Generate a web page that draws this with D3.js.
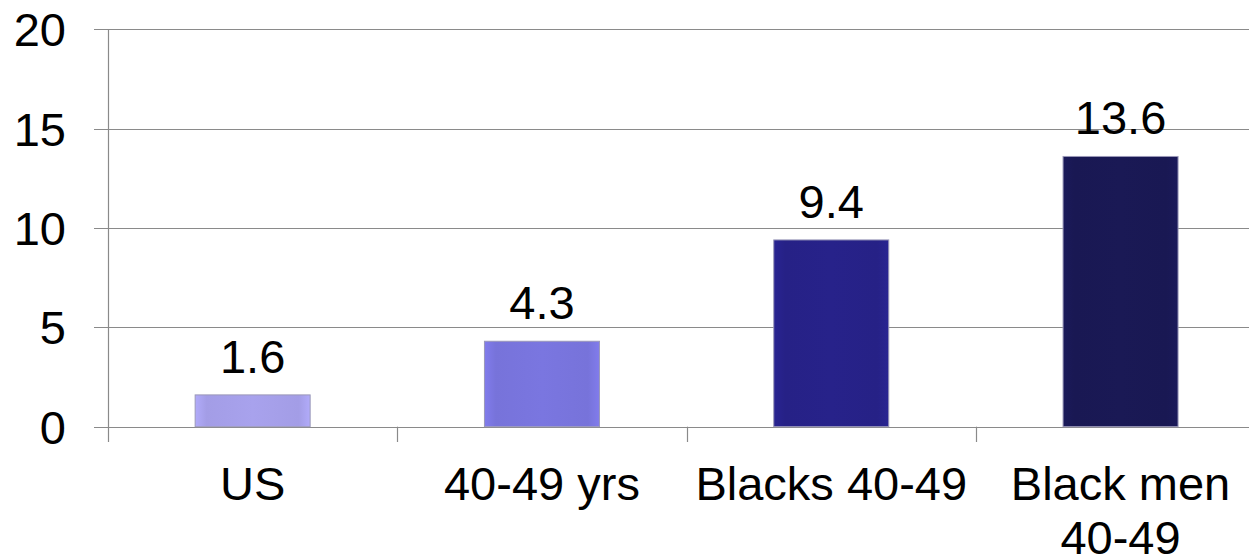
<!DOCTYPE html>
<html>
<head>
<meta charset="utf-8">
<script src="https://cdn.jsdelivr.net/npm/d3@7"></script>
<style>
  html, body { margin: 0; padding: 0; background: #fff; }
  svg { display: block; }
  text { font-family: "Liberation Sans", Arial, sans-serif; fill: #000; }
</style>
</head>
<body>
<svg id="chart" width="1249" height="557"></svg>
<script>
// Category names (multi-line labels split on "\n")
const categories = ["US", "40-49 yrs", "Blacks 40-49", "Black men\n40-49"];
// Rate per category
const values = [1.6, 4.3, 9.4, 13.6];
// Bar fills, light to dark
const barColors = ["#a8a2ed", "#7a76e0", "#27228a", "#1a1955"];
// Y-axis tick values
const yTicks = [0, 5, 10, 15, 20];

const W = 1249, H = 557;
const plotLeft = 108, plotTop = 29.3, plotBottom = 426.7;
const step = 289.3;
const fontSize = 47;

const svg = d3.select("#chart");

const y = d3.scaleLinear().domain([0, 20]).range([plotBottom, plotTop]);
const x = d3.scaleBand()
  .domain(categories)
  .range([plotLeft, plotLeft + step * categories.length])
  .paddingInner(0.6025)
  .paddingOuter(0.6025 / 2);

// Horizontal gridlines with short ticks left of the axis
svg.append("g").selectAll("line").data(yTicks).join("line")
  .attr("x1", 94).attr("x2", W)
  .attr("y1", d => Math.round(y(d)) + 0.5)
  .attr("y2", d => Math.round(y(d)) + 0.5)
  .attr("stroke", "#8a8a8a").attr("stroke-width", 1.2);

// Y tick labels
svg.append("g").selectAll("text").data(yTicks).join("text")
  .attr("x", 66).attr("y", d => y(d))
  .attr("dy", "0.36em")
  .attr("text-anchor", "end")
  .attr("font-size", fontSize)
  .text(d => d);

// Vertical axis line
svg.append("line")
  .attr("x1", plotLeft + 0.5).attr("x2", plotLeft + 0.5)
  .attr("y1", y(20)).attr("y2", 442)
  .attr("stroke", "#8a8a8a").attr("stroke-width", 1.2);

// Category boundary ticks
const bounds = categories.slice(1).map(c => x(c) - (x.step() - x.bandwidth()) / 2);
svg.append("g").selectAll("line").data(bounds).join("line")
  .attr("x1", d => Math.round(d) + 0.5).attr("x2", d => Math.round(d) + 0.5)
  .attr("y1", plotBottom).attr("y2", 442)
  .attr("stroke", "#8a8a8a").attr("stroke-width", 1.2);

// Bar gradients
const defs = svg.append("defs");
barColors.forEach((c, i) => {
  const g = defs.append("linearGradient").attr("id", "g" + i)
    .attr("x1", 0).attr("x2", 1).attr("y1", 0).attr("y2", 0);
  const base = d3.color(c);
  g.append("stop").attr("offset", "0%").attr("stop-color", base.brighter(0.15));
  g.append("stop").attr("offset", "10%").attr("stop-color", base.darker(0.08));
  g.append("stop").attr("offset", "50%").attr("stop-color", base);
  g.append("stop").attr("offset", "90%").attr("stop-color", base.darker(0.08));
  g.append("stop").attr("offset", "100%").attr("stop-color", base.brighter(0.15));
});

const data = categories.map((c, i) => ({ c, v: values[i], i }));

// Bars
svg.append("g").selectAll("rect").data(data).join("rect")
  .attr("x", d => x(d.c))
  .attr("y", d => y(d.v))
  .attr("width", x.bandwidth())
  .attr("height", d => y(0) - y(d.v))
  .attr("fill", d => `url(#g${d.i})`)
  .attr("stroke", "#9a98b8")
  .attr("stroke-width", 1);

// Value labels
svg.append("g").selectAll("text").data(data).join("text")
  .attr("x", d => x(d.c) + x.bandwidth() / 2)
  .attr("y", d => y(d.v) - 22)
  .attr("text-anchor", "middle")
  .attr("font-size", fontSize)
  .text(d => d.v);

// Category labels
const lab = svg.append("g").selectAll("text").data(data).join("text")
  .attr("text-anchor", "middle")
  .attr("font-size", fontSize);
lab.each(function (d) {
  const t = d3.select(this);
  d.c.split("\n").forEach((line, k) => {
    t.append("tspan")
      .attr("x", x(d.c) + x.bandwidth() / 2)
      .attr("y", 500 + k * 54)
      .text(line);
  });
});
</script>
</body>
</html>
